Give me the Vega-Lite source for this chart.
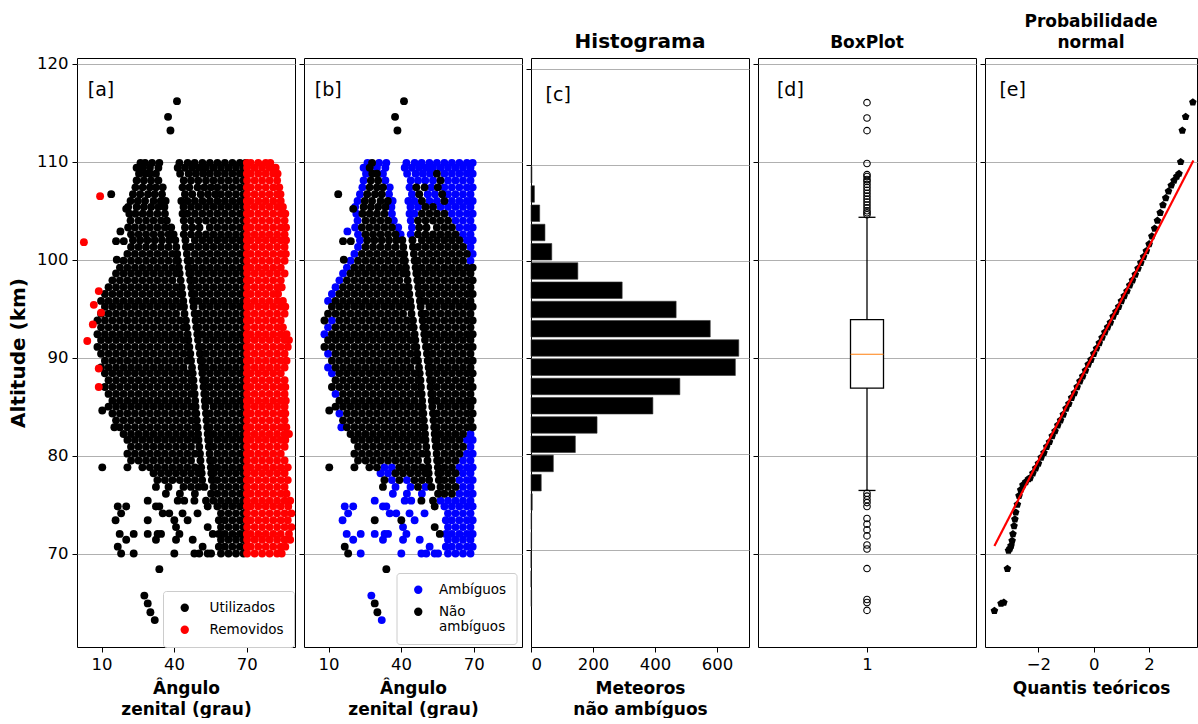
{
"$schema": "https://vega.github.io/schema/vega-lite/v6.json",
"padding": {"left": 8, "top": 12, "right": 0, "bottom": 0},
"autosize": {"type": "pad"},
"background": "white",
"config": {
  "font": "DejaVu Sans",
  "view": {"stroke": "#000", "strokeWidth": 1},
  "axis": {"domain": false, "grid": false, "gridColor": "#b0b0b0", "gridWidth": 1, "tickColor": "#000", "tickSize": 5, "labelPadding": 4, "labelFont": "DejaVu Sans", "labelFontSize": 16.5, "labelColor": "#000", "titleFont": "DejaVu Sans", "titleFontSize": 17, "titleFontWeight": "bold", "titleColor": "#000", "titleLineHeight": 21, "titlePadding": 8},
  "title": {"font": "DejaVu Sans", "fontWeight": "bold", "fontSize": 17, "color": "#000", "anchor": "middle", "offset": 6, "lineHeight": 21}
},
"spacing": 9,
"bounds": "flush",
"resolve": {"scale": {"x": "independent", "y": "independent", "color": "independent"}, "legend": {"color": "independent"}},
"hconcat": [
{
  "width": 218, "height": 589,
  "encoding": {
    "x": {"field": "z", "type": "quantitative", "scale": {"domain": [-0.15, 90], "nice": false, "zero": false}, "axis": {"values": [10, 40, 70], "title": ["Ângulo", "zenital (grau)"]}},
    "y": {"field": "h", "type": "quantitative", "scale": {"domain": [60.45, 120.61], "nice": false, "zero": false}, "axis": {"values": [70, 80, 90, 100, 110, 120], "grid": true, "title": "Altitude (km)", "titleFontSize": 20, "titlePadding": 8}}
  },
  "layer": [
    {"data": {"name": "amb"}, "mark": {"type": "circle", "size": 62, "opacity": 1},
     "encoding": {"color": {"datum": "Utilizados", "type": "nominal", "scale": {"domain": ["Utilizados", "Removidos"], "range": ["#000000", "#ff0000"]},
       "legend": {"title": null, "orient": "none", "legendX": 86, "legendY": 533, "fillColor": "rgba(255,255,255,0.8)", "strokeColor": "#cccccc", "padding": 10, "cornerRadius": 3, "labelFontSize": 13.5, "labelFont": "DejaVu Sans", "symbolSize": 70, "symbolOffset": 5, "labelOffset": 18, "rowPadding": 7, "symbolType": "circle", "symbolStrokeWidth": 0}}}},
    {"data": {"name": "non"}, "mark": {"type": "circle", "size": 62, "opacity": 1},
     "encoding": {"color": {"datum": "Utilizados", "type": "nominal"}}},
    {"data": {"name": "rem"}, "mark": {"type": "circle", "size": 62, "opacity": 1},
     "encoding": {"color": {"datum": "Removidos", "type": "nominal"}}},
    {"data": {"values": [{"t": "[a]", "z": 4.3, "h": 117.3}]}, "mark": {"type": "text", "align": "left", "baseline": "middle", "fontSize": 19, "font": "DejaVu Sans", "color": "#000"},
     "encoding": {"text": {"field": "t"}}}
  ]
},
{
  "width": 218, "height": 589,
  "encoding": {
    "x": {"field": "z", "type": "quantitative", "scale": {"domain": [-0.15, 90], "nice": false, "zero": false}, "axis": {"values": [10, 40, 70], "title": ["Ângulo", "zenital (grau)"]}},
    "y": {"field": "h", "type": "quantitative", "scale": {"domain": [60.45, 120.61], "nice": false, "zero": false}, "axis": {"values": [70, 80, 90, 100, 110, 120], "grid": true, "labels": false, "title": null}}
  },
  "layer": [
    {"data": {"name": "amb"}, "mark": {"type": "circle", "size": 62, "opacity": 1},
     "encoding": {"color": {"datum": "Ambíguos", "type": "nominal", "scale": {"domain": ["Ambíguos", "Não ambíguos"], "range": ["#0000ff", "#000000"]},
       "legend": {"title": null, "orient": "none", "legendX": 92.5, "legendY": 515, "fillColor": "rgba(255,255,255,0.8)", "strokeColor": "#cccccc", "padding": 10, "cornerRadius": 3, "labelFontSize": 13.5, "labelFont": "DejaVu Sans", "symbolSize": 70, "symbolOffset": 5, "labelOffset": 14, "rowPadding": 7, "symbolType": "circle", "symbolStrokeWidth": 0,
         "labelExpr": "datum.label == 'Não ambíguos' ? ['Não', 'ambíguos'] : datum.label"}}}},
    {"data": {"name": "non"}, "mark": {"type": "circle", "size": 62, "opacity": 1},
     "encoding": {"color": {"datum": "Não ambíguos", "type": "nominal"}}},
    {"data": {"values": [{"t": "[b]", "z": 4.3, "h": 117.3}]}, "mark": {"type": "text", "align": "left", "baseline": "middle", "fontSize": 19, "font": "DejaVu Sans", "color": "#000"},
     "encoding": {"text": {"field": "t"}}}
  ]
},
{
  "width": 218, "height": 589,
  "title": {"text": "Histograma", "fontSize": 20},
  "encoding": {
    "x": {"field": "n", "type": "quantitative", "scale": {"domain": [0, 703], "nice": false, "zero": false}, "axis": {"values": [0, 200, 400, 600], "title": ["Meteoros", "não ambíguos"]}},
    "y": {"field": "c", "type": "quantitative", "scale": {"domain": [60.45, 120.61], "nice": false, "zero": false}, "axis": {"values": [70, 80, 90, 100, 110, 120], "grid": true, "labels": false, "title": null}}
  },
  "layer": [
    {"data": {"values": [
      {"c": 65, "n": 2}, {"c": 67, "n": 0}, {"c": 69, "n": 0}, {"c": 71, "n": 2}, {"c": 73, "n": 2}, {"c": 75, "n": 4},
      {"c": 77, "n": 33}, {"c": 79, "n": 72}, {"c": 81, "n": 143}, {"c": 83, "n": 213}, {"c": 85, "n": 393}, {"c": 87, "n": 480},
      {"c": 89, "n": 659}, {"c": 91, "n": 670}, {"c": 93, "n": 578}, {"c": 95, "n": 468}, {"c": 97, "n": 294}, {"c": 99, "n": 151},
      {"c": 101, "n": 67}, {"c": 103, "n": 45}, {"c": 105, "n": 28}, {"c": 107, "n": 11}, {"c": 109, "n": 3}
     ]},
     "mark": {"type": "bar", "orient": "horizontal", "size": 16.5, "color": "#000", "stroke": "#333", "strokeWidth": 0.6}},
    {"data": {"values": [{"t": "[c]", "n": 47, "c": 117.3}]}, "mark": {"type": "text", "align": "left", "baseline": "middle", "fontSize": 19, "font": "DejaVu Sans", "color": "#000"},
     "encoding": {"text": {"field": "t"}}}
  ]
},
{
  "width": 218, "height": 589,
  "title": {"text": "BoxPlot"},
  "encoding": {
    "x": {"field": "x", "type": "quantitative", "scale": {"domain": [0.5, 1.5], "nice": false, "zero": false}, "axis": {"values": [1], "title": null}}
  },
  "layer": [
    {"data": {"values": [{"x": 1, "lo": 76.44, "q1": 86.9, "med": 90.35, "q3": 93.88, "hi": 104.34}]},
     "layer": [
      {"mark": {"type": "rule", "color": "#000", "strokeWidth": 1.3},
       "encoding": {"y": {"field": "lo", "type": "quantitative", "scale": {"domain": [60.45, 120.61], "nice": false, "zero": false}, "axis": {"values": [70, 80, 90, 100, 110, 120], "grid": true, "labels": false, "title": null}}, "y2": {"field": "q1"}}},
      {"mark": {"type": "rule", "color": "#000", "strokeWidth": 1.3},
       "encoding": {"y": {"field": "q3", "type": "quantitative", "title": null}, "y2": {"field": "hi"}}},
      {"mark": {"type": "bar", "orient": "vertical", "size": 33, "fill": "#ffffff", "stroke": "#000", "strokeWidth": 1.3},
       "encoding": {"y": {"field": "q1", "type": "quantitative", "title": null}, "y2": {"field": "q3"}}},
      {"mark": {"type": "tick", "orient": "horizontal", "size": 33, "thickness": 1.2, "color": "#ff7f0e", "opacity": 1},
       "encoding": {"y": {"field": "med", "type": "quantitative", "title": null}}},
      {"mark": {"type": "tick", "orient": "horizontal", "size": 17, "thickness": 1.3, "color": "#000", "opacity": 1},
       "encoding": {"y": {"field": "lo", "type": "quantitative", "title": null}}},
      {"mark": {"type": "tick", "orient": "horizontal", "size": 17, "thickness": 1.3, "color": "#000", "opacity": 1},
       "encoding": {"y": {"field": "hi", "type": "quantitative", "title": null}}}
     ]},
    {"data": {"values": [
      {"x": 1, "v": 116.05}, {"x": 1, "v": 114.48}, {"x": 1, "v": 113.19}, {"x": 1, "v": 109.83}, {"x": 1, "v": 108.7}, {"x": 1, "v": 108.5},
      {"x": 1, "v": 108.2}, {"x": 1, "v": 108.0}, {"x": 1, "v": 107.7}, {"x": 1, "v": 107.4}, {"x": 1, "v": 107.1}, {"x": 1, "v": 106.8},
      {"x": 1, "v": 106.5}, {"x": 1, "v": 106.2}, {"x": 1, "v": 105.9}, {"x": 1, "v": 105.6}, {"x": 1, "v": 105.3}, {"x": 1, "v": 105.0},
      {"x": 1, "v": 104.8}, {"x": 1, "v": 104.6},
      {"x": 1, "v": 76.15}, {"x": 1, "v": 75.86}, {"x": 1, "v": 75.5}, {"x": 1, "v": 75.2}, {"x": 1, "v": 74.8}, {"x": 1, "v": 73.57},
      {"x": 1, "v": 73.0}, {"x": 1, "v": 72.41}, {"x": 1, "v": 71.8}, {"x": 1, "v": 70.87}, {"x": 1, "v": 70.46}, {"x": 1, "v": 68.46},
      {"x": 1, "v": 65.3}, {"x": 1, "v": 65.0}, {"x": 1, "v": 64.19}
     ]},
     "mark": {"type": "point", "shape": "circle", "size": 42, "filled": false, "color": "#000", "strokeWidth": 1.1, "opacity": 1},
     "encoding": {"y": {"field": "v", "type": "quantitative", "title": null}}},
    {"data": {"values": [{"t": "[d]", "x": 0.567, "v": 117.3}]}, "mark": {"type": "text", "align": "left", "baseline": "middle", "fontSize": 19, "font": "DejaVu Sans", "color": "#000"},
     "encoding": {"y": {"field": "v", "type": "quantitative", "title": null}, "text": {"field": "t"}}}
  ]
},
{
  "width": 212, "height": 589,
  "title": {"text": ["Probabilidade", "normal"]},
  "encoding": {
    "x": {"field": "q", "type": "quantitative", "scale": {"domain": [-3.93, 3.73], "nice": false, "zero": false}, "axis": {"values": [-2, 0, 2], "title": "Quantis teóricos"}},
    "y": {"field": "v", "type": "quantitative", "scale": {"domain": [60.45, 120.61], "nice": false, "zero": false}, "axis": {"values": [70, 80, 90, 100, 110, 120], "grid": true, "labels": false, "title": null}}
  },
  "layer": [
    {"data": {"name": "qq"}, "mark": {"type": "point", "shape": "M0,-1L0.951,-0.309L0.588,0.809L-0.588,0.809L-0.951,-0.309Z", "size": 64, "filled": true, "color": "#000", "opacity": 1, "strokeWidth": 0}},
    {"data": {"values": [{"q": -3.59, "v": 70.77}, {"q": 3.6, "v": 110.13}]}, "mark": {"type": "line", "color": "#ff0000", "strokeWidth": 2.2}},
    {"data": {"values": [{"t": "[e]", "q": -3.41, "v": 117.3}]}, "mark": {"type": "text", "align": "left", "baseline": "middle", "fontSize": 19, "font": "DejaVu Sans", "color": "#000"},
     "encoding": {"text": {"field": "t"}}}
  ]
}
],
"datasets": {
"qq": [
{"q":-3.59,"v":64.16},{"q":-3.35,"v":64.9},{"q":-3.25,"v":65.0},{"q":-3.12,"v":68.45},{"q":-3.08,"v":70.3},{"q":-3.03,"v":70.5},{"q":-2.99,"v":70.8},{"q":-2.95,"v":71.3},{"q":-2.92,"v":72.0},{"q":-2.88,"v":72.8},{"q":-2.85,"v":73.5},{"q":-2.82,"v":74.2},{"q":-2.76,"v":75.0},{"q":-2.7,"v":75.9},{"q":-2.64,"v":76.5},{"q":-2.56,"v":77.0},{"q":-2.46,"v":77.3},{"q":-2.36,"v":77.6},
{"q":-2.3,"v":77.7},{"q":-2.2,"v":78.2},{"q":-2.1,"v":78.7},{"q":-2.0,"v":79.2},{"q":-1.9,"v":79.8},{"q":-1.8,"v":80.3},{"q":-1.7,"v":80.9},{"q":-1.6,"v":81.4},{"q":-1.5,"v":82.0},{"q":-1.4,"v":82.5},{"q":-1.3,"v":83.1},{"q":-1.2,"v":83.6},{"q":-1.1,"v":84.2},{"q":-1.0,"v":84.8},{"q":-0.9,"v":85.3},{"q":-0.8,"v":85.9},{"q":-0.7,"v":86.4},{"q":-0.6,"v":87.0},{"q":-0.5,"v":87.6},{"q":-0.4,"v":88.1},{"q":-0.3,"v":88.7},{"q":-0.2,"v":89.3},{"q":-0.1,"v":89.8},
{"q":0.0,"v":90.4},{"q":0.1,"v":90.95},{"q":0.2,"v":91.5},{"q":0.3,"v":92.05},{"q":0.4,"v":92.6},{"q":0.5,"v":93.1},{"q":0.6,"v":93.6},{"q":0.7,"v":94.2},{"q":0.8,"v":94.7},{"q":0.9,"v":95.2},{"q":1.0,"v":95.8},{"q":1.1,"v":96.3},{"q":1.2,"v":96.8},{"q":1.3,"v":97.4},{"q":1.4,"v":97.9},{"q":1.5,"v":98.5},{"q":1.6,"v":99.1},{"q":1.7,"v":99.7},{"q":1.8,"v":100.3},{"q":1.9,"v":100.9},
{"q":2.0,"v":101.6},{"q":2.1,"v":102.4},{"q":2.2,"v":103.2},{"q":2.3,"v":104.0},{"q":2.4,"v":104.8},{"q":2.5,"v":105.6},{"q":2.6,"v":106.3},{"q":2.7,"v":107.0},{"q":2.8,"v":107.6},{"q":2.9,"v":108.1},{"q":3.0,"v":108.5},{"q":3.08,"v":108.8},{"q":3.14,"v":110.0},{"q":3.2,"v":113.2},{"q":3.32,"v":114.6},{"q":3.58,"v":116.1}
],
"non": [
{"z":28,"h":109.9},
{"z":27,"h":109.4},
{"z":28.1,"h":108.8},{"z":30,"h":108.8},{"z":54.8,"h":108.8},
{"z":27.5,"h":108.1},{"z":30.5,"h":108.1},{"z":56.3,"h":108.1},
{"z":27,"h":107.4},{"z":30,"h":107.4},{"z":32.5,"h":107.4},{"z":46.3,"h":107.4},{"z":49.7,"h":107.4},{"z":55.2,"h":107.4},
{"z":14,"h":106.7},{"z":26,"h":106.7},{"z":29.2,"h":106.7},{"z":32,"h":106.7},{"z":47.5,"h":106.7},{"z":57,"h":106.7},
{"z":25,"h":106},{"z":28,"h":106},{"z":31.5,"h":106},{"z":34.5,"h":106},{"z":48.6,"h":106},{"z":57.9,"h":106},
{"z":24.5,"h":105.4},{"z":27.5,"h":105.4},{"z":30.5,"h":105.4},{"z":33.5,"h":105.4},{"z":50.1,"h":105.4},{"z":53.2,"h":105.4},
{"z":20.2,"h":105.2},
{"z":24,"h":104.7},{"z":27,"h":104.7},{"z":30,"h":104.7},{"z":33.1,"h":104.7},{"z":48.6,"h":104.7},{"z":51.7,"h":104.7},{"z":54.8,"h":104.7},{"z":57.9,"h":104.7},
{"z":25.3,"h":104},{"z":28.4,"h":104},{"z":31.5,"h":104},{"z":34.6,"h":104},{"z":47,"h":104},{"z":50.1,"h":104},{"z":53.2,"h":104},{"z":56.3,"h":104},{"z":59.4,"h":104},
{"z":23.8,"h":103.3},{"z":26.9,"h":103.3},{"z":30,"h":103.3},{"z":33.1,"h":103.3},{"z":36.2,"h":103.3},{"z":47.5,"h":103.3},{"z":50.5,"h":103.3},{"z":54.8,"h":103.3},{"z":57.9,"h":103.3},{"z":61,"h":103.3},
{"z":25.3,"h":102.6},{"z":28.4,"h":102.6},{"z":31.5,"h":102.6},{"z":34.6,"h":102.6},{"z":37.7,"h":102.6},{"z":47,"h":102.6},{"z":50.1,"h":102.6},{"z":53.2,"h":102.6},{"z":56.3,"h":102.6},{"z":59.4,"h":102.6},{"z":62.5,"h":102.6},
{"z":26,"h":102},{"z":29,"h":102},{"z":32,"h":102},{"z":35,"h":102},{"z":38,"h":102},{"z":40.5,"h":102},{"z":44.7,"h":102},{"z":48.6,"h":102},{"z":51.7,"h":102},{"z":54.8,"h":102},{"z":57.9,"h":102},{"z":61,"h":102},{"z":64.1,"h":102},
{"z":16,"h":101.9},{"z":19.2,"h":101.9},
{"z":25.3,"h":101.3},{"z":28.4,"h":101.3},{"z":31.5,"h":101.3},{"z":34.6,"h":101.3},{"z":37.7,"h":101.3},{"z":40.9,"h":101.3},{"z":44.9,"h":101.3},{"z":47,"h":101.3},{"z":50.1,"h":101.3},{"z":53.2,"h":101.3},{"z":56.3,"h":101.3},{"z":59.4,"h":101.3},{"z":62.5,"h":101.3},{"z":65.6,"h":101.3},
{"z":23.8,"h":100.6},{"z":26.9,"h":100.6},{"z":30,"h":100.6},{"z":33.1,"h":100.6},{"z":36.2,"h":100.6},{"z":39.3,"h":100.6},{"z":41.3,"h":100.6},{"z":45.3,"h":100.6},{"z":48.6,"h":100.6},{"z":51.7,"h":100.6},{"z":54.8,"h":100.6},{"z":57.9,"h":100.6},{"z":61,"h":100.6},{"z":64.1,"h":100.6},{"z":67.2,"h":100.6},
{"z":16.3,"h":100},
{"z":22.2,"h":99.9},{"z":25.3,"h":99.9},{"z":28.4,"h":99.9},{"z":31.5,"h":99.9},{"z":34.6,"h":99.9},{"z":37.7,"h":99.9},{"z":40.8,"h":99.9},{"z":41.6,"h":99.9},{"z":45.6,"h":99.9},{"z":47,"h":99.9},{"z":50.1,"h":99.9},{"z":53.2,"h":99.9},{"z":56.3,"h":99.9},{"z":59.4,"h":99.9},{"z":62.5,"h":99.9},{"z":65.6,"h":99.9},
{"z":20.7,"h":99.2},{"z":23.8,"h":99.2},{"z":26.9,"h":99.2},{"z":30,"h":99.2},{"z":33.1,"h":99.2},{"z":36.2,"h":99.2},{"z":39.3,"h":99.2},{"z":42,"h":99.2},{"z":46,"h":99.2},{"z":48.6,"h":99.2},{"z":51.7,"h":99.2},{"z":54.8,"h":99.2},{"z":57.9,"h":99.2},{"z":61,"h":99.2},{"z":64.1,"h":99.2},{"z":67.2,"h":99.2},{"z":69.6,"h":99.2},
{"z":19.1,"h":98.6},{"z":22.2,"h":98.6},{"z":25.3,"h":98.6},{"z":28.4,"h":98.6},{"z":31.5,"h":98.6},{"z":34.6,"h":98.6},{"z":37.7,"h":98.6},{"z":40.8,"h":98.6},{"z":42.3,"h":98.6},{"z":46.3,"h":98.6},{"z":47,"h":98.6},{"z":50.1,"h":98.6},{"z":53.2,"h":98.6},{"z":56.3,"h":98.6},{"z":59.4,"h":98.6},{"z":62.5,"h":98.6},{"z":65.6,"h":98.6},{"z":68.7,"h":98.6},
{"z":17.6,"h":97.9},{"z":20.7,"h":97.9},{"z":23.8,"h":97.9},{"z":26.9,"h":97.9},{"z":30,"h":97.9},{"z":33.1,"h":97.9},{"z":36.2,"h":97.9},{"z":39.3,"h":97.9},{"z":42.7,"h":97.9},{"z":46.7,"h":97.9},{"z":48.6,"h":97.9},{"z":51.7,"h":97.9},{"z":54.8,"h":97.9},{"z":57.9,"h":97.9},{"z":61,"h":97.9},{"z":64.1,"h":97.9},{"z":67.2,"h":97.9},{"z":69.6,"h":97.9},
{"z":16,"h":97.2},{"z":19.1,"h":97.2},{"z":22.2,"h":97.2},{"z":25.3,"h":97.2},{"z":28.4,"h":97.2},{"z":31.5,"h":97.2},{"z":34.6,"h":97.2},{"z":37.7,"h":97.2},{"z":40.8,"h":97.2},{"z":43.1,"h":97.2},{"z":47.1,"h":97.2},{"z":50.1,"h":97.2},{"z":53.2,"h":97.2},{"z":56.3,"h":97.2},{"z":59.4,"h":97.2},{"z":62.5,"h":97.2},{"z":65.6,"h":97.2},{"z":68.7,"h":97.2},
{"z":14.5,"h":96.5},{"z":17.6,"h":96.5},{"z":20.7,"h":96.5},{"z":23.8,"h":96.5},{"z":26.9,"h":96.5},{"z":30,"h":96.5},{"z":33.1,"h":96.5},{"z":36.2,"h":96.5},{"z":39.3,"h":96.5},{"z":42.4,"h":96.5},{"z":43.4,"h":96.5},{"z":47.4,"h":96.5},{"z":48.6,"h":96.5},{"z":51.7,"h":96.5},{"z":54.8,"h":96.5},{"z":57.9,"h":96.5},{"z":61,"h":96.5},{"z":64.1,"h":96.5},{"z":67.2,"h":96.5},{"z":69.6,"h":96.5},
{"z":12.9,"h":95.8},{"z":16,"h":95.8},{"z":19.1,"h":95.8},{"z":22.2,"h":95.8},{"z":25.3,"h":95.8},{"z":28.4,"h":95.8},{"z":31.5,"h":95.8},{"z":34.6,"h":95.8},{"z":37.7,"h":95.8},{"z":40.8,"h":95.8},{"z":43.8,"h":95.8},{"z":47.8,"h":95.8},{"z":50.1,"h":95.8},{"z":53.2,"h":95.8},{"z":56.3,"h":95.8},{"z":59.4,"h":95.8},{"z":62.5,"h":95.8},{"z":65.6,"h":95.8},{"z":68.7,"h":95.8},
{"z":11.4,"h":95.2},{"z":14.5,"h":95.2},{"z":17.6,"h":95.2},{"z":20.7,"h":95.2},{"z":23.8,"h":95.2},{"z":26.9,"h":95.2},{"z":30,"h":95.2},{"z":33.1,"h":95.2},{"z":36.2,"h":95.2},{"z":39.3,"h":95.2},{"z":42.4,"h":95.2},{"z":44.1,"h":95.2},{"z":48.1,"h":95.2},{"z":51.7,"h":95.2},{"z":54.8,"h":95.2},{"z":57.9,"h":95.2},{"z":61,"h":95.2},{"z":64.1,"h":95.2},{"z":67.2,"h":95.2},{"z":69.6,"h":95.2},
{"z":9.8,"h":94.5},{"z":12.9,"h":94.5},{"z":16,"h":94.5},{"z":19.1,"h":94.5},{"z":22.2,"h":94.5},{"z":25.3,"h":94.5},{"z":28.4,"h":94.5},{"z":31.5,"h":94.5},{"z":34.6,"h":94.5},{"z":37.7,"h":94.5},{"z":40.8,"h":94.5},{"z":44.3,"h":94.5},{"z":48.5,"h":94.5},{"z":50.1,"h":94.5},{"z":53.2,"h":94.5},{"z":56.3,"h":94.5},{"z":59.4,"h":94.5},{"z":62.5,"h":94.5},{"z":65.6,"h":94.5},{"z":68.7,"h":94.5},
{"z":8.3,"h":93.8},{"z":14.5,"h":93.8},{"z":17.6,"h":93.8},{"z":20.7,"h":93.8},{"z":23.8,"h":93.8},{"z":26.9,"h":93.8},{"z":30,"h":93.8},{"z":33.1,"h":93.8},{"z":36.2,"h":93.8},{"z":39.3,"h":93.8},{"z":42.4,"h":93.8},{"z":44.9,"h":93.8},{"z":48.9,"h":93.8},{"z":51.7,"h":93.8},{"z":54.8,"h":93.8},{"z":57.9,"h":93.8},{"z":61,"h":93.8},{"z":64.1,"h":93.8},{"z":67.2,"h":93.8},{"z":69.6,"h":93.8},
{"z":12.9,"h":93.1},{"z":16,"h":93.1},{"z":19.1,"h":93.1},{"z":22.2,"h":93.1},{"z":25.3,"h":93.1},{"z":28.4,"h":93.1},{"z":31.5,"h":93.1},{"z":34.6,"h":93.1},{"z":37.7,"h":93.1},{"z":40.8,"h":93.1},{"z":43.9,"h":93.1},{"z":45.2,"h":93.1},{"z":49.2,"h":93.1},{"z":50.1,"h":93.1},{"z":53.2,"h":93.1},{"z":56.3,"h":93.1},{"z":59.4,"h":93.1},{"z":62.5,"h":93.1},{"z":65.6,"h":93.1},{"z":68.7,"h":93.1},
{"z":11.4,"h":92.4},{"z":14.5,"h":92.4},{"z":17.6,"h":92.4},{"z":20.7,"h":92.4},{"z":23.8,"h":92.4},{"z":26.9,"h":92.4},{"z":30,"h":92.4},{"z":33.1,"h":92.4},{"z":36.2,"h":92.4},{"z":39.3,"h":92.4},{"z":42.4,"h":92.4},{"z":45.6,"h":92.4},{"z":49.6,"h":92.4},{"z":51.7,"h":92.4},{"z":54.8,"h":92.4},{"z":57.9,"h":92.4},{"z":61,"h":92.4},{"z":64.1,"h":92.4},{"z":67.2,"h":92.4},{"z":69.6,"h":92.4},
{"z":9.8,"h":91.8},{"z":12.9,"h":91.8},{"z":16,"h":91.8},{"z":19.1,"h":91.8},{"z":22.2,"h":91.8},{"z":25.3,"h":91.8},{"z":28.4,"h":91.8},{"z":31.5,"h":91.8},{"z":34.6,"h":91.8},{"z":37.7,"h":91.8},{"z":40.8,"h":91.8},{"z":43.9,"h":91.8},{"z":45.9,"h":91.8},{"z":49.9,"h":91.8},{"z":53.2,"h":91.8},{"z":56.3,"h":91.8},{"z":59.4,"h":91.8},{"z":62.5,"h":91.8},{"z":65.6,"h":91.8},{"z":68.7,"h":91.8},
{"z":8.3,"h":91.1},{"z":11.4,"h":91.1},{"z":14.5,"h":91.1},{"z":17.6,"h":91.1},{"z":20.7,"h":91.1},{"z":23.8,"h":91.1},{"z":26.9,"h":91.1},{"z":30,"h":91.1},{"z":33.1,"h":91.1},{"z":36.2,"h":91.1},{"z":39.3,"h":91.1},{"z":42.4,"h":91.1},{"z":45.5,"h":91.1},{"z":46.3,"h":91.1},{"z":50.3,"h":91.1},{"z":51.7,"h":91.1},{"z":54.8,"h":91.1},{"z":57.9,"h":91.1},{"z":61,"h":91.1},{"z":64.1,"h":91.1},{"z":67.2,"h":91.1},{"z":69.6,"h":91.1},
{"z":12.9,"h":90.4},{"z":16,"h":90.4},{"z":19.1,"h":90.4},{"z":22.2,"h":90.4},{"z":25.3,"h":90.4},{"z":28.4,"h":90.4},{"z":31.5,"h":90.4},{"z":34.6,"h":90.4},{"z":37.7,"h":90.4},{"z":40.8,"h":90.4},{"z":43.9,"h":90.4},{"z":46.7,"h":90.4},{"z":50.7,"h":90.4},{"z":53.2,"h":90.4},{"z":56.3,"h":90.4},{"z":59.4,"h":90.4},{"z":62.5,"h":90.4},{"z":65.6,"h":90.4},{"z":68.7,"h":90.4},
{"z":11.4,"h":89.7},{"z":14.5,"h":89.7},{"z":17.6,"h":89.7},{"z":20.7,"h":89.7},{"z":23.8,"h":89.7},{"z":26.9,"h":89.7},{"z":30,"h":89.7},{"z":33.1,"h":89.7},{"z":36.2,"h":89.7},{"z":39.3,"h":89.7},{"z":42.4,"h":89.7},{"z":45.5,"h":89.7},{"z":47,"h":89.7},{"z":51,"h":89.7},{"z":51.7,"h":89.7},{"z":54.8,"h":89.7},{"z":57.9,"h":89.7},{"z":61,"h":89.7},{"z":64.1,"h":89.7},{"z":67.2,"h":89.7},{"z":69.6,"h":89.7},
{"z":12.9,"h":89},{"z":16,"h":89},{"z":19.1,"h":89},{"z":22.2,"h":89},{"z":25.3,"h":89},{"z":28.4,"h":89},{"z":31.5,"h":89},{"z":34.6,"h":89},{"z":37.7,"h":89},{"z":40.8,"h":89},{"z":43.9,"h":89},{"z":47.4,"h":89},{"z":51.4,"h":89},{"z":53.2,"h":89},{"z":56.3,"h":89},{"z":59.4,"h":89},{"z":62.5,"h":89},{"z":65.6,"h":89},{"z":68.7,"h":89},
{"z":14.5,"h":88.4},{"z":17.6,"h":88.4},{"z":20.7,"h":88.4},{"z":23.8,"h":88.4},{"z":26.9,"h":88.4},{"z":30,"h":88.4},{"z":33.1,"h":88.4},{"z":36.2,"h":88.4},{"z":39.3,"h":88.4},{"z":42.4,"h":88.4},{"z":45.5,"h":88.4},{"z":47.7,"h":88.4},{"z":51.7,"h":88.4},{"z":54.8,"h":88.4},{"z":57.9,"h":88.4},{"z":61,"h":88.4},{"z":64.1,"h":88.4},{"z":67.2,"h":88.4},{"z":69.6,"h":88.4},
{"z":12.9,"h":87.7},{"z":16,"h":87.7},{"z":19.1,"h":87.7},{"z":22.2,"h":87.7},{"z":25.3,"h":87.7},{"z":28.4,"h":87.7},{"z":31.5,"h":87.7},{"z":34.6,"h":87.7},{"z":37.7,"h":87.7},{"z":40.8,"h":87.7},{"z":43.9,"h":87.7},{"z":47,"h":87.7},{"z":48,"h":87.7},{"z":52,"h":87.7},{"z":53.2,"h":87.7},{"z":56.3,"h":87.7},{"z":59.4,"h":87.7},{"z":62.5,"h":87.7},{"z":65.6,"h":87.7},{"z":68.7,"h":87.7},
{"z":11.4,"h":87},{"z":14.5,"h":87},{"z":17.6,"h":87},{"z":20.7,"h":87},{"z":23.8,"h":87},{"z":26.9,"h":87},{"z":30,"h":87},{"z":33.1,"h":87},{"z":36.2,"h":87},{"z":39.3,"h":87},{"z":42.4,"h":87},{"z":45.5,"h":87},{"z":48.2,"h":87},{"z":52.2,"h":87},{"z":54.8,"h":87},{"z":57.9,"h":87},{"z":61,"h":87},{"z":64.1,"h":87},{"z":67.2,"h":87},{"z":69.6,"h":87},
{"z":16,"h":86.3},{"z":19.1,"h":86.3},{"z":22.2,"h":86.3},{"z":25.3,"h":86.3},{"z":28.4,"h":86.3},{"z":31.5,"h":86.3},{"z":34.6,"h":86.3},{"z":37.7,"h":86.3},{"z":40.8,"h":86.3},{"z":43.9,"h":86.3},{"z":47,"h":86.3},{"z":48.5,"h":86.3},{"z":52.5,"h":86.3},{"z":53.2,"h":86.3},{"z":56.3,"h":86.3},{"z":59.4,"h":86.3},{"z":62.5,"h":86.3},{"z":65.6,"h":86.3},{"z":68.7,"h":86.3},
{"z":14.5,"h":85.6},{"z":17.6,"h":85.6},{"z":20.7,"h":85.6},{"z":23.8,"h":85.6},{"z":26.9,"h":85.6},{"z":30,"h":85.6},{"z":33.1,"h":85.6},{"z":36.2,"h":85.6},{"z":39.3,"h":85.6},{"z":42.4,"h":85.6},{"z":45.5,"h":85.6},{"z":48.7,"h":85.6},{"z":52.7,"h":85.6},{"z":54.8,"h":85.6},{"z":57.9,"h":85.6},{"z":61,"h":85.6},{"z":64.1,"h":85.6},{"z":67.2,"h":85.6},{"z":69.6,"h":85.6},
{"z":12.9,"h":85},{"z":16,"h":85},{"z":19.1,"h":85},{"z":22.2,"h":85},{"z":25.3,"h":85},{"z":28.4,"h":85},{"z":31.5,"h":85},{"z":34.6,"h":85},{"z":37.7,"h":85},{"z":40.8,"h":85},{"z":43.9,"h":85},{"z":47,"h":85},{"z":48.9,"h":85},{"z":52.9,"h":85},{"z":56.3,"h":85},{"z":59.4,"h":85},{"z":62.5,"h":85},{"z":65.6,"h":85},{"z":68.7,"h":85},
{"z":10.3,"h":84.6},
{"z":17.6,"h":84.3},{"z":20.7,"h":84.3},{"z":23.8,"h":84.3},{"z":26.9,"h":84.3},{"z":30,"h":84.3},{"z":33.1,"h":84.3},{"z":36.2,"h":84.3},{"z":39.3,"h":84.3},{"z":42.4,"h":84.3},{"z":45.5,"h":84.3},{"z":48.6,"h":84.3},{"z":49.2,"h":84.3},{"z":53.2,"h":84.3},{"z":54.8,"h":84.3},{"z":57.9,"h":84.3},{"z":61,"h":84.3},{"z":64.1,"h":84.3},{"z":67.2,"h":84.3},{"z":69.6,"h":84.3},
{"z":16,"h":83.6},{"z":19.1,"h":83.6},{"z":22.2,"h":83.6},{"z":25.3,"h":83.6},{"z":28.4,"h":83.6},{"z":31.5,"h":83.6},{"z":34.6,"h":83.6},{"z":37.7,"h":83.6},{"z":40.8,"h":83.6},{"z":43.9,"h":83.6},{"z":47,"h":83.6},{"z":49.4,"h":83.6},{"z":53.4,"h":83.6},{"z":56.3,"h":83.6},{"z":59.4,"h":83.6},{"z":62.5,"h":83.6},{"z":65.6,"h":83.6},{"z":68.7,"h":83.6},
{"z":17.6,"h":82.9},{"z":20.7,"h":82.9},{"z":23.8,"h":82.9},{"z":26.9,"h":82.9},{"z":30,"h":82.9},{"z":33.1,"h":82.9},{"z":36.2,"h":82.9},{"z":39.3,"h":82.9},{"z":42.4,"h":82.9},{"z":45.5,"h":82.9},{"z":48.6,"h":82.9},{"z":49.7,"h":82.9},{"z":53.7,"h":82.9},{"z":54.8,"h":82.9},{"z":57.9,"h":82.9},{"z":61,"h":82.9},{"z":64.1,"h":82.9},{"z":67.2,"h":82.9},{"z":69.6,"h":82.9},
{"z":19.1,"h":82.2},{"z":22.2,"h":82.2},{"z":25.3,"h":82.2},{"z":28.4,"h":82.2},{"z":31.5,"h":82.2},{"z":34.6,"h":82.2},{"z":37.7,"h":82.2},{"z":40.8,"h":82.2},{"z":43.9,"h":82.2},{"z":47,"h":82.2},{"z":49.9,"h":82.2},{"z":53.9,"h":82.2},{"z":56.3,"h":82.2},{"z":59.4,"h":82.2},{"z":62.5,"h":82.2},{"z":65.6,"h":82.2},
{"z":20.7,"h":81.6},{"z":23.8,"h":81.6},{"z":26.9,"h":81.6},{"z":30,"h":81.6},{"z":33.1,"h":81.6},{"z":36.2,"h":81.6},{"z":39.3,"h":81.6},{"z":42.4,"h":81.6},{"z":45.5,"h":81.6},{"z":48.6,"h":81.6},{"z":50.1,"h":81.6},{"z":54.1,"h":81.6},{"z":54.8,"h":81.6},{"z":57.9,"h":81.6},{"z":61,"h":81.6},{"z":64.1,"h":81.6},
{"z":22.2,"h":80.9},{"z":25.3,"h":80.9},{"z":28.4,"h":80.9},{"z":31.5,"h":80.9},{"z":34.6,"h":80.9},{"z":37.7,"h":80.9},{"z":40.8,"h":80.9},{"z":43.9,"h":80.9},{"z":47,"h":80.9},{"z":50.4,"h":80.9},{"z":54.4,"h":80.9},{"z":56.3,"h":80.9},{"z":59.4,"h":80.9},{"z":62.5,"h":80.9},{"z":65.6,"h":80.9},
{"z":20.7,"h":80.2},{"z":23.8,"h":80.2},{"z":26.9,"h":80.2},{"z":30,"h":80.2},{"z":33.1,"h":80.2},{"z":36.2,"h":80.2},{"z":39.3,"h":80.2},{"z":42.4,"h":80.2},{"z":45.5,"h":80.2},{"z":48.6,"h":80.2},{"z":50.7,"h":80.2},{"z":54.7,"h":80.2},{"z":57.9,"h":80.2},{"z":61,"h":80.2},{"z":64.1,"h":80.2},
{"z":22.2,"h":79.5},{"z":25.3,"h":79.5},{"z":28.4,"h":79.5},{"z":31.5,"h":79.5},{"z":34.6,"h":79.5},{"z":37.7,"h":79.5},{"z":40.8,"h":79.5},{"z":43.9,"h":79.5},{"z":47,"h":79.5},{"z":50.9,"h":79.5},{"z":54.9,"h":79.5},{"z":56.3,"h":79.5},{"z":59.4,"h":79.5},{"z":62.5,"h":79.5},
{"z":10.3,"h":78.8},{"z":20.7,"h":78.8},{"z":26.9,"h":78.8},{"z":30,"h":78.8},{"z":39.3,"h":78.8},{"z":42.4,"h":78.8},{"z":45.5,"h":78.8},{"z":48.6,"h":78.8},{"z":51.2,"h":78.8},{"z":55.2,"h":78.8},{"z":57.9,"h":78.8},{"z":61,"h":78.8},
{"z":37.7,"h":78.2},{"z":40.8,"h":78.2},{"z":43.9,"h":78.2},{"z":47,"h":78.2},{"z":50.1,"h":78.2},{"z":51.4,"h":78.2},{"z":55.4,"h":78.2},{"z":56.3,"h":78.2},{"z":59.4,"h":78.2},{"z":62.5,"h":78.2},
{"z":33.1,"h":77.5},{"z":39.3,"h":77.5},{"z":45.5,"h":77.5},{"z":48.6,"h":77.5},{"z":51.6,"h":77.5},{"z":55.6,"h":77.5},{"z":57.9,"h":77.5},{"z":61,"h":77.5},
{"z":32.5,"h":76.8},{"z":47,"h":76.8},{"z":52.5,"h":76.8},{"z":56.3,"h":76.8},{"z":59.4,"h":76.8},{"z":62.5,"h":76.8},
{"z":55.3,"h":76.1},{"z":57.9,"h":76.1},{"z":61,"h":76.1},
{"z":48.4,"h":75.4},{"z":53.2,"h":75.4},
{"z":53.9,"h":74.8},
{"z":29.1,"h":73.4},{"z":40.1,"h":73.4},
{"z":53.9,"h":72.7},
{"z":56,"h":72},
{"z":16.7,"h":70.7},
{"z":18.1,"h":70},
{"z":33.9,"h":68.4},{"z":29.1,"h":64.9},{"z":30.2,"h":64},
{"z":41.2,"h":116.2},{"z":37.5,"h":114.6},{"z":38.5,"h":113.2}
],
"amb": [
{"z":26.1,"h":109.9},{"z":30.9,"h":109.9},{"z":33.9,"h":109.9},{"z":42.2,"h":109.9},{"z":45.6,"h":109.9},{"z":48.5,"h":109.9},{"z":51.7,"h":109.9},{"z":54.8,"h":109.9},{"z":57.9,"h":109.9},{"z":61,"h":109.9},{"z":64.1,"h":109.9},{"z":67.2,"h":109.9},{"z":69.6,"h":109.9},
{"z":24.5,"h":109.4},{"z":30,"h":109.4},{"z":33.5,"h":109.4},{"z":41.5,"h":109.4},{"z":44.5,"h":109.4},{"z":47.5,"h":109.4},{"z":50.5,"h":109.4},{"z":53.2,"h":109.4},{"z":56.3,"h":109.4},{"z":59.4,"h":109.4},{"z":62.5,"h":109.4},{"z":65.6,"h":109.4},{"z":68.7,"h":109.4},
{"z":25.5,"h":108.8},{"z":32.5,"h":108.8},{"z":42.5,"h":108.8},{"z":46,"h":108.8},{"z":49,"h":108.8},{"z":52,"h":108.8},{"z":57.9,"h":108.8},{"z":61,"h":108.8},{"z":64.1,"h":108.8},{"z":67.2,"h":108.8},{"z":69.6,"h":108.8},
{"z":24.5,"h":108.1},{"z":33.5,"h":108.1},{"z":44,"h":108.1},{"z":47,"h":108.1},{"z":50,"h":108.1},{"z":53.2,"h":108.1},{"z":59.4,"h":108.1},{"z":62.5,"h":108.1},{"z":65.6,"h":108.1},{"z":68.7,"h":108.1},
{"z":24,"h":107.4},{"z":35.3,"h":107.4},{"z":43.5,"h":107.4},{"z":52.5,"h":107.4},{"z":57.9,"h":107.4},{"z":61,"h":107.4},{"z":64.1,"h":107.4},{"z":67.2,"h":107.4},{"z":69.6,"h":107.4},
{"z":23,"h":106.7},{"z":35,"h":106.7},{"z":44.5,"h":106.7},{"z":51,"h":106.7},{"z":54,"h":106.7},{"z":59.4,"h":106.7},{"z":62.5,"h":106.7},{"z":65.6,"h":106.7},{"z":68.7,"h":106.7},
{"z":22,"h":106},{"z":36.5,"h":106},{"z":43,"h":106},{"z":45.5,"h":106},{"z":51.7,"h":106},{"z":54.8,"h":106},{"z":61,"h":106},{"z":64.1,"h":106},{"z":67.2,"h":106},{"z":69.6,"h":106},
{"z":21,"h":105.4},{"z":36,"h":105.4},{"z":43.9,"h":105.4},{"z":47,"h":105.4},{"z":56.3,"h":105.4},{"z":59.4,"h":105.4},{"z":62.5,"h":105.4},{"z":65.6,"h":105.4},{"z":68.7,"h":105.4},
{"z":21.5,"h":104.7},{"z":36.2,"h":104.7},{"z":43.5,"h":104.7},{"z":45.5,"h":104.7},{"z":61,"h":104.7},{"z":64.1,"h":104.7},{"z":67.2,"h":104.7},{"z":69.6,"h":104.7},
{"z":22,"h":104},{"z":37,"h":104},{"z":44,"h":104},{"z":62.5,"h":104},{"z":65.6,"h":104},{"z":68.7,"h":104},
{"z":21,"h":103.3},{"z":38.8,"h":103.3},{"z":44.5,"h":103.3},{"z":64.1,"h":103.3},{"z":67.2,"h":103.3},{"z":69.6,"h":103.3},
{"z":17.8,"h":102.9},
{"z":22.2,"h":102.6},{"z":39.8,"h":102.6},{"z":44,"h":102.6},{"z":65.6,"h":102.6},{"z":68.7,"h":102.6},
{"z":23,"h":102},{"z":67.2,"h":102},{"z":69.6,"h":102},
{"z":22.2,"h":101.3},{"z":68.7,"h":101.3},
{"z":20.7,"h":100.6},{"z":69.6,"h":100.6},
{"z":19.1,"h":99.9},{"z":68.7,"h":99.9},
{"z":17.6,"h":99.2},
{"z":16,"h":98.6},
{"z":14.5,"h":97.9},
{"z":12.9,"h":97.2},
{"z":11.4,"h":96.5},
{"z":9.8,"h":95.8},
{"z":11.4,"h":93.8},
{"z":9.8,"h":93.1},
{"z":8.3,"h":92.4},
{"z":9.8,"h":90.4},
{"z":9.8,"h":89},
{"z":11.4,"h":88.4},
{"z":12.9,"h":86.3},
{"z":14.5,"h":84.3},
{"z":15.3,"h":82.9},
{"z":68.7,"h":82.2},
{"z":67.2,"h":81.6},{"z":69.6,"h":81.6},
{"z":68.7,"h":80.9},
{"z":67.2,"h":80.2},{"z":69.6,"h":80.2},
{"z":65.6,"h":79.5},{"z":68.7,"h":79.5},
{"z":33.1,"h":78.8},{"z":36.2,"h":78.8},{"z":64.1,"h":78.8},{"z":67.2,"h":78.8},{"z":69.6,"h":78.8},
{"z":31.5,"h":78.2},{"z":34.6,"h":78.2},{"z":65.6,"h":78.2},{"z":68.7,"h":78.2},
{"z":36.2,"h":77.5},{"z":42.4,"h":77.5},{"z":64.1,"h":77.5},{"z":67.2,"h":77.5},{"z":69.6,"h":77.5},
{"z":37.7,"h":76.8},{"z":43.9,"h":76.8},{"z":50.1,"h":76.8},{"z":65.6,"h":76.8},{"z":68.7,"h":76.8},
{"z":36.6,"h":76.1},{"z":42.4,"h":76.1},{"z":48.6,"h":76.1},{"z":64.1,"h":76.1},{"z":67.2,"h":76.1},{"z":69.6,"h":76.1},
{"z":29.1,"h":75.4},{"z":41.5,"h":75.4},{"z":44.2,"h":75.4},{"z":56.3,"h":75.4},{"z":59.4,"h":75.4},{"z":62.5,"h":75.4},{"z":65.6,"h":75.4},{"z":68.7,"h":75.4},
{"z":16.7,"h":74.8},{"z":20.2,"h":74.8},{"z":32.5,"h":74.8},{"z":33.9,"h":74.8},{"z":57.9,"h":74.8},{"z":61,"h":74.8},{"z":64.1,"h":74.8},{"z":67.2,"h":74.8},{"z":69.6,"h":74.8},
{"z":18.1,"h":74.1},{"z":35.3,"h":74.1},{"z":38,"h":74.1},{"z":43.5,"h":74.1},{"z":49.7,"h":74.1},{"z":59.4,"h":74.1},{"z":62.5,"h":74.1},{"z":65.6,"h":74.1},{"z":68.7,"h":74.1},
{"z":15.8,"h":73.4},{"z":45.6,"h":73.4},{"z":58.5,"h":73.4},{"z":61,"h":73.4},{"z":64.1,"h":73.4},{"z":67.2,"h":73.4},{"z":69.6,"h":73.4},
{"z":40.8,"h":72.7},{"z":59.4,"h":72.7},{"z":62.5,"h":72.7},{"z":65.6,"h":72.7},{"z":68.7,"h":72.7},
{"z":17.5,"h":72},{"z":23.3,"h":72},{"z":29.1,"h":72},{"z":33.2,"h":72},{"z":34.6,"h":72},{"z":42.2,"h":72},{"z":58.5,"h":72},{"z":61,"h":72},{"z":64.1,"h":72},{"z":67.2,"h":72},{"z":69.6,"h":72},
{"z":20.2,"h":71.4},{"z":32.5,"h":71.4},{"z":40.8,"h":71.4},{"z":47.7,"h":71.4},{"z":59.4,"h":71.4},{"z":62.5,"h":71.4},{"z":65.6,"h":71.4},{"z":68.7,"h":71.4},
{"z":51.8,"h":70.7},{"z":58.5,"h":70.7},{"z":61,"h":70.7},{"z":64.1,"h":70.7},{"z":67.2,"h":70.7},{"z":69.6,"h":70.7},
{"z":23.3,"h":70},{"z":40.1,"h":70},{"z":48.4,"h":70},{"z":50.4,"h":70},{"z":53.9,"h":70},{"z":55.3,"h":70},{"z":59.4,"h":70},{"z":62.5,"h":70},{"z":65.6,"h":70},{"z":68.7,"h":70},
{"z":27.7,"h":65.7},{"z":32,"h":63.2}
],
"rem": [
{"z":70.1,"h":109.9},{"z":71.7,"h":109.9},{"z":74.8,"h":109.9},{"z":77.9,"h":109.9},{"z":79.8,"h":109.9},
{"z":70.2,"h":109.4},{"z":73.3,"h":109.4},{"z":76.4,"h":109.4},{"z":79.5,"h":109.4},{"z":82,"h":109.4},
{"z":70.1,"h":108.8},{"z":71.7,"h":108.8},{"z":74.8,"h":108.8},{"z":77.9,"h":108.8},{"z":81,"h":108.8},{"z":82.8,"h":108.8},
{"z":70.2,"h":108.1},{"z":73.3,"h":108.1},{"z":76.4,"h":108.1},{"z":79.5,"h":108.1},{"z":82.6,"h":108.1},
{"z":70.1,"h":107.4},{"z":71.7,"h":107.4},{"z":74.8,"h":107.4},{"z":77.9,"h":107.4},{"z":81,"h":107.4},{"z":83.5,"h":107.4},
{"z":70.2,"h":106.7},{"z":73.3,"h":106.7},{"z":76.4,"h":106.7},{"z":79.5,"h":106.7},{"z":82.6,"h":106.7},{"z":84,"h":106.7},
{"z":70.1,"h":106},{"z":71.7,"h":106},{"z":74.8,"h":106},{"z":77.9,"h":106},{"z":81,"h":106},{"z":84.1,"h":106},
{"z":70.2,"h":105.4},{"z":73.3,"h":105.4},{"z":76.4,"h":105.4},{"z":79.5,"h":105.4},{"z":82.6,"h":105.4},{"z":85,"h":105.4},
{"z":70.1,"h":104.7},{"z":71.7,"h":104.7},{"z":74.8,"h":104.7},{"z":77.9,"h":104.7},{"z":81,"h":104.7},{"z":84.1,"h":104.7},{"z":86,"h":104.7},
{"z":70.2,"h":104},{"z":73.3,"h":104},{"z":76.4,"h":104},{"z":79.5,"h":104},{"z":82.6,"h":104},{"z":85.7,"h":104},
{"z":70.1,"h":103.3},{"z":71.7,"h":103.3},{"z":74.8,"h":103.3},{"z":77.9,"h":103.3},{"z":81,"h":103.3},{"z":84.1,"h":103.3},{"z":86.3,"h":103.3},
{"z":70.2,"h":102.6},{"z":73.3,"h":102.6},{"z":76.4,"h":102.6},{"z":79.5,"h":102.6},{"z":82.6,"h":102.6},{"z":85.7,"h":102.6},
{"z":70.1,"h":102},{"z":71.7,"h":102},{"z":74.8,"h":102},{"z":77.9,"h":102},{"z":81,"h":102},{"z":84.1,"h":102},{"z":86.3,"h":102},
{"z":70.2,"h":101.3},{"z":73.3,"h":101.3},{"z":76.4,"h":101.3},{"z":79.5,"h":101.3},{"z":82.6,"h":101.3},{"z":85.7,"h":101.3},
{"z":70.1,"h":100.6},{"z":71.7,"h":100.6},{"z":74.8,"h":100.6},{"z":77.9,"h":100.6},{"z":81,"h":100.6},{"z":84.1,"h":100.6},{"z":86.2,"h":100.6},
{"z":70.2,"h":99.9},{"z":73.3,"h":99.9},{"z":76.4,"h":99.9},{"z":79.5,"h":99.9},{"z":82.6,"h":99.9},{"z":85.7,"h":99.9},
{"z":70.1,"h":99.2},{"z":71.7,"h":99.2},{"z":74.8,"h":99.2},{"z":77.9,"h":99.2},{"z":81,"h":99.2},{"z":84.1,"h":99.2},
{"z":70.2,"h":98.6},{"z":73.3,"h":98.6},{"z":76.4,"h":98.6},{"z":79.5,"h":98.6},{"z":82.6,"h":98.6},{"z":85.7,"h":98.6},
{"z":70.1,"h":97.9},{"z":71.7,"h":97.9},{"z":74.8,"h":97.9},{"z":77.9,"h":97.9},{"z":81,"h":97.9},{"z":84.1,"h":97.9},
{"z":70.2,"h":97.2},{"z":73.3,"h":97.2},{"z":76.4,"h":97.2},{"z":79.5,"h":97.2},{"z":82.6,"h":97.2},{"z":84.5,"h":97.2},
{"z":70.1,"h":96.5},{"z":71.7,"h":96.5},{"z":74.8,"h":96.5},{"z":77.9,"h":96.5},{"z":81,"h":96.5},{"z":83,"h":96.5},
{"z":70.2,"h":95.8},{"z":73.3,"h":95.8},{"z":76.4,"h":95.8},{"z":79.5,"h":95.8},{"z":82.6,"h":95.8},{"z":85,"h":95.8},
{"z":70.1,"h":95.2},{"z":71.7,"h":95.2},{"z":74.8,"h":95.2},{"z":77.9,"h":95.2},{"z":81,"h":95.2},{"z":84.1,"h":95.2},{"z":86,"h":95.2},
{"z":70.2,"h":94.5},{"z":73.3,"h":94.5},{"z":76.4,"h":94.5},{"z":79.5,"h":94.5},{"z":82.6,"h":94.5},{"z":85.7,"h":94.5},
{"z":70.1,"h":93.8},{"z":71.7,"h":93.8},{"z":74.8,"h":93.8},{"z":77.9,"h":93.8},{"z":81,"h":93.8},{"z":84.1,"h":93.8},
{"z":70.2,"h":93.1},{"z":73.3,"h":93.1},{"z":76.4,"h":93.1},{"z":79.5,"h":93.1},{"z":82.6,"h":93.1},{"z":85,"h":93.1},
{"z":70.1,"h":92.4},{"z":71.7,"h":92.4},{"z":74.8,"h":92.4},{"z":77.9,"h":92.4},{"z":81,"h":92.4},{"z":84.1,"h":92.4},{"z":86.5,"h":92.4},
{"z":70.2,"h":91.8},{"z":73.3,"h":91.8},{"z":76.4,"h":91.8},{"z":79.5,"h":91.8},{"z":82.6,"h":91.8},{"z":85.7,"h":91.8},{"z":87.5,"h":91.8},
{"z":70.1,"h":91.1},{"z":71.7,"h":91.1},{"z":74.8,"h":91.1},{"z":77.9,"h":91.1},{"z":81,"h":91.1},{"z":84.1,"h":91.1},{"z":87,"h":91.1},
{"z":70.2,"h":90.4},{"z":73.3,"h":90.4},{"z":76.4,"h":90.4},{"z":79.5,"h":90.4},{"z":82.6,"h":90.4},{"z":85.7,"h":90.4},
{"z":70.1,"h":89.7},{"z":71.7,"h":89.7},{"z":74.8,"h":89.7},{"z":77.9,"h":89.7},{"z":81,"h":89.7},{"z":84.1,"h":89.7},{"z":86.5,"h":89.7},
{"z":70.2,"h":89},{"z":73.3,"h":89},{"z":76.4,"h":89},{"z":79.5,"h":89},{"z":82.6,"h":89},{"z":85.7,"h":89},
{"z":70.1,"h":88.4},{"z":71.7,"h":88.4},{"z":74.8,"h":88.4},{"z":77.9,"h":88.4},{"z":81,"h":88.4},{"z":84.1,"h":88.4},
{"z":70.2,"h":87.7},{"z":73.3,"h":87.7},{"z":76.4,"h":87.7},{"z":79.5,"h":87.7},{"z":82.6,"h":87.7},{"z":85.7,"h":87.7},
{"z":70.1,"h":87},{"z":71.7,"h":87},{"z":74.8,"h":87},{"z":77.9,"h":87},{"z":81,"h":87},{"z":84.1,"h":87},{"z":86,"h":87},
{"z":70.2,"h":86.3},{"z":73.3,"h":86.3},{"z":76.4,"h":86.3},{"z":79.5,"h":86.3},{"z":82.6,"h":86.3},{"z":85.7,"h":86.3},
{"z":70.1,"h":85.6},{"z":71.7,"h":85.6},{"z":74.8,"h":85.6},{"z":77.9,"h":85.6},{"z":81,"h":85.6},{"z":84.1,"h":85.6},{"z":86.2,"h":85.6},
{"z":70.2,"h":85},{"z":73.3,"h":85},{"z":76.4,"h":85},{"z":79.5,"h":85},{"z":82.6,"h":85},{"z":85.7,"h":85},
{"z":70.1,"h":84.3},{"z":71.7,"h":84.3},{"z":74.8,"h":84.3},{"z":77.9,"h":84.3},{"z":81,"h":84.3},{"z":84.1,"h":84.3},{"z":86,"h":84.3},
{"z":70.2,"h":83.6},{"z":73.3,"h":83.6},{"z":76.4,"h":83.6},{"z":79.5,"h":83.6},{"z":82.6,"h":83.6},{"z":85.7,"h":83.6},
{"z":70.1,"h":82.9},{"z":71.7,"h":82.9},{"z":74.8,"h":82.9},{"z":77.9,"h":82.9},{"z":81,"h":82.9},{"z":84.1,"h":82.9},{"z":86.4,"h":82.9},
{"z":70.2,"h":82.2},{"z":73.3,"h":82.2},{"z":76.4,"h":82.2},{"z":79.5,"h":82.2},{"z":82.6,"h":82.2},{"z":85.7,"h":82.2},{"z":87.5,"h":82.2},
{"z":70.1,"h":81.6},{"z":71.7,"h":81.6},{"z":74.8,"h":81.6},{"z":77.9,"h":81.6},{"z":81,"h":81.6},{"z":84.1,"h":81.6},{"z":86,"h":81.6},
{"z":70.2,"h":80.9},{"z":73.3,"h":80.9},{"z":76.4,"h":80.9},{"z":79.5,"h":80.9},{"z":82.6,"h":80.9},{"z":85.7,"h":80.9},
{"z":70.1,"h":80.2},{"z":71.7,"h":80.2},{"z":74.8,"h":80.2},{"z":77.9,"h":80.2},{"z":81,"h":80.2},{"z":84.1,"h":80.2},
{"z":70.2,"h":79.5},{"z":73.3,"h":79.5},{"z":76.4,"h":79.5},{"z":79.5,"h":79.5},{"z":82.6,"h":79.5},{"z":85.7,"h":79.5},
{"z":70.1,"h":78.8},{"z":71.7,"h":78.8},{"z":74.8,"h":78.8},{"z":77.9,"h":78.8},{"z":81,"h":78.8},{"z":84.1,"h":78.8},{"z":87,"h":78.8},
{"z":70.2,"h":78.2},{"z":73.3,"h":78.2},{"z":76.4,"h":78.2},{"z":79.5,"h":78.2},{"z":82.6,"h":78.2},{"z":85.7,"h":78.2},
{"z":70.1,"h":77.5},{"z":71.7,"h":77.5},{"z":74.8,"h":77.5},{"z":77.9,"h":77.5},{"z":81,"h":77.5},{"z":84.1,"h":77.5},{"z":87,"h":77.5},
{"z":70.2,"h":76.8},{"z":73.3,"h":76.8},{"z":76.4,"h":76.8},{"z":79.5,"h":76.8},{"z":82.6,"h":76.8},{"z":85.7,"h":76.8},
{"z":70.1,"h":76.1},{"z":71.7,"h":76.1},{"z":74.8,"h":76.1},{"z":77.9,"h":76.1},{"z":81,"h":76.1},{"z":84.1,"h":76.1},{"z":86.5,"h":76.1},
{"z":70.2,"h":75.4},{"z":73.3,"h":75.4},{"z":76.4,"h":75.4},{"z":79.5,"h":75.4},{"z":82.6,"h":75.4},{"z":85.7,"h":75.4},{"z":88,"h":75.4},
{"z":70.1,"h":74.8},{"z":71.7,"h":74.8},{"z":74.8,"h":74.8},{"z":77.9,"h":74.8},{"z":81,"h":74.8},{"z":84.1,"h":74.8},{"z":87.2,"h":74.8},
{"z":70.2,"h":74.1},{"z":73.3,"h":74.1},{"z":76.4,"h":74.1},{"z":79.5,"h":74.1},{"z":82.6,"h":74.1},{"z":85.7,"h":74.1},{"z":88.5,"h":74.1},
{"z":70.1,"h":73.4},{"z":71.7,"h":73.4},{"z":74.8,"h":73.4},{"z":77.9,"h":73.4},{"z":81,"h":73.4},{"z":84.1,"h":73.4},{"z":87,"h":73.4},
{"z":70.2,"h":72.7},{"z":73.3,"h":72.7},{"z":76.4,"h":72.7},{"z":79.5,"h":72.7},{"z":82.6,"h":72.7},{"z":85.7,"h":72.7},{"z":88.5,"h":72.7},
{"z":70.1,"h":72},{"z":71.7,"h":72},{"z":74.8,"h":72},{"z":77.9,"h":72},{"z":81,"h":72},{"z":84.1,"h":72},{"z":87.5,"h":72},
{"z":70.2,"h":71.4},{"z":73.3,"h":71.4},{"z":76.4,"h":71.4},{"z":79.5,"h":71.4},{"z":82.6,"h":71.4},{"z":85.7,"h":71.4},{"z":88,"h":71.4},
{"z":70.1,"h":70.7},{"z":71.7,"h":70.7},{"z":74.8,"h":70.7},{"z":77.9,"h":70.7},{"z":81,"h":70.7},{"z":84.1,"h":70.7},{"z":86,"h":70.7},
{"z":70.2,"h":70},{"z":73.3,"h":70},{"z":76.4,"h":70},{"z":79.5,"h":70},{"z":82.6,"h":70},{"z":84.5,"h":70},
{"z":9.4,"h":106.5},{"z":2.7,"h":101.8},{"z":8.85,"h":96.8},{"z":6.8,"h":95.4},{"z":9.8,"h":94.6},{"z":6.4,"h":93.4},{"z":4.1,"h":91.7},{"z":8.85,"h":88.9},{"z":8.85,"h":87}
]
}
}
